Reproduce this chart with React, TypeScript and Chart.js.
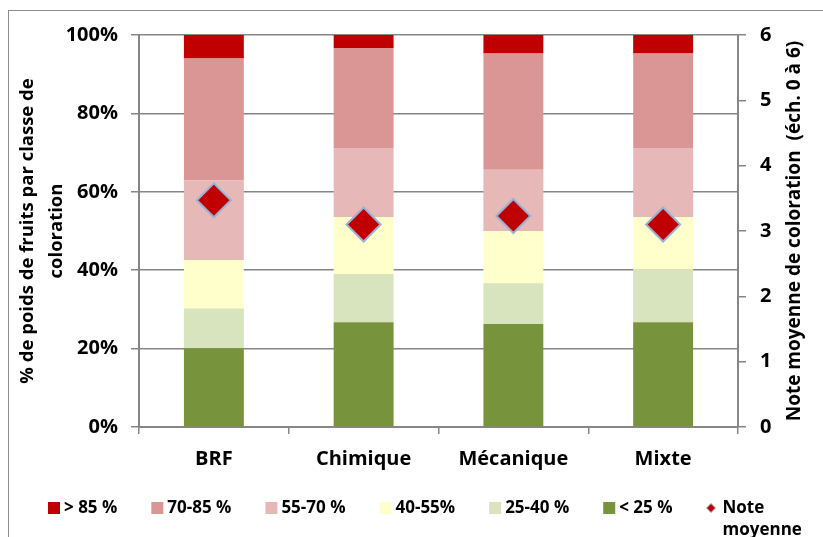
import React, { useEffect, useRef } from "react";
import { Chart, registerables } from "chart.js";

Chart.register(...registerables);

const categories = ["BRF", "Chimique", "Mécanique", "Mixte"];
const classLabels = ["< 25 %", "25-40 %", "40-55%", "55-70 %", "70-85 %", "> 85 %"];
const classColors = ["#77933C", "#D7E4BD", "#FFFFCC", "#E6B9B8", "#D99694", "#C00000"];
const lt25 = [20.1, 26.7, 26.3, 26.7];
const c25_40 = [10.1, 12.3, 10.4, 13.4];
const c40_55 = [12.4, 14.6, 13.3, 13.5];
const c55_70 = [20.3, 17.6, 15.6, 17.6];
const c70_85 = [31.1, 25.5, 29.7, 24.1];
const gt85 = [6.0, 3.3, 4.7, 4.7];
const noteMoyenne = [3.47, 3.1, 3.23, 3.1];
const noteLabel = "Note moyenne";
const leftTicks = [0, 20, 40, 60, 80, 100];
const rightTicks = [0, 1, 2, 3, 4, 5, 6];
const leftTitle = ["% de poids de fruits par classe de", "coloration"];
const rightTitle = "Note moyenne de coloration  (éch. 0 à 6)";

const FONT = "'Open Sans', sans-serif";
const GRAY = "#868686";
const RED = "#C00000";
const DIAMOND_BORDER = "#95B3D7";

// legend layout (Excel-like: fixed gap after each label)
const LEGEND_LEFT = 48;
const LEGEND_OFFSET_Y = 81; // below chart area bottom
const LEGEND_BOX = 12;
const LEGEND_TEXT_GAP = 4;
const LEGEND_ITEM_GAP = 34;

const customLegend = {
  id: "customLegend",
  afterDraw(chart: any) {
    const ctx = chart.ctx;
    const datasets = chart.data.datasets;
    const order = datasets
      .map((d: any, i: number) => i)
      .filter((i: number) => datasets[i].type !== "line")
      .reverse()
      .concat(datasets.map((d: any, i: number) => i).filter((i: number) => datasets[i].type === "line"));
    ctx.save();
    ctx.font = `bold 17px ${FONT}`;
    ctx.textBaseline = "middle";
    ctx.textAlign = "left";
    const y = chart.chartArea.bottom + LEGEND_OFFSET_Y;
    let x = LEGEND_LEFT;
    order.forEach((i: number) => {
      const ds = datasets[i];
      let textX: number;
      if (ds.type === "line") {
        const cx = x + 4.5;
        ctx.beginPath();
        ctx.moveTo(cx, y - 4.5);
        ctx.lineTo(cx + 4.5, y);
        ctx.lineTo(cx, y + 4.5);
        ctx.lineTo(cx - 4.5, y);
        ctx.closePath();
        ctx.fillStyle = RED;
        ctx.fill();
        ctx.lineWidth = 1;
        ctx.strokeStyle = DIAMOND_BORDER;
        ctx.stroke();
        textX = x + 16;
      } else {
        ctx.fillStyle = ds.backgroundColor;
        ctx.fillRect(x, y - LEGEND_BOX / 2, LEGEND_BOX, LEGEND_BOX);
        textX = x + LEGEND_BOX + LEGEND_TEXT_GAP;
      }
      const lines = ds.label === noteLabel ? ["Note", "moyenne"] : [ds.label];
      ctx.fillStyle = "#000";
      let w = 0;
      lines.forEach((ln: string, k: number) => {
        ctx.fillText(ln, textX, y + k * 22);
        w = Math.max(w, ctx.measureText(ln).width);
      });
      x = textX + w + LEGEND_ITEM_GAP;
    });
    ctx.restore();
  },
};

const rightTitlePlugin = {
  id: "rightTitle",
  afterDraw(chart: any) {
    const ctx = chart.ctx;
    const s = chart.scales.y2;
    ctx.save();
    ctx.font = `bold 19px ${FONT}`;
    ctx.fillStyle = "#000";
    ctx.textAlign = "center";
    ctx.textBaseline = "middle";
    ctx.translate(s.right - 28, (s.top + s.bottom) / 2);
    ctx.rotate(-Math.PI / 2);
    ctx.fillText(rightTitle, 0, 0);
    ctx.restore();
  },
};

export default function App() {
  const ref = useRef<HTMLCanvasElement | null>(null);

  useEffect(() => {
    if (!ref.current) return;
    const series = [lt25, c25_40, c40_55, c55_70, c70_85, gt85];
    const barSets = series.map((d, i) => ({
      type: "bar" as const,
      label: classLabels[i],
      data: d,
      backgroundColor: classColors[i],
      borderWidth: 0,
      yAxisID: "y",
      stack: "s",
      order: 1,
      barPercentage: 0.4,
      categoryPercentage: 1,
    }));
    const chart = new Chart(ref.current, {
      type: "bar",
      data: {
        labels: categories,
        datasets: [
          ...barSets,
          {
            type: "line" as const,
            label: noteLabel,
            data: noteMoyenne,
            yAxisID: "y2",
            showLine: false,
            order: -1,
            pointStyle: "rectRot",
            pointRadius: 17,
            pointHoverRadius: 17,
            pointBackgroundColor: RED,
            pointBorderColor: DIAMOND_BORDER,
            pointBorderWidth: 2,
            backgroundColor: RED,
            borderColor: DIAMOND_BORDER,
          },
        ] as any,
      },
      plugins: [customLegend, rightTitlePlugin],
      options: {
        animation: false,
        responsive: false,
        layout: { padding: { left: 0, right: 0, top: 35, bottom: 50 } },
        plugins: {
          tooltip: { enabled: false },
          legend: { display: false },
        },
        scales: {
          x: {
            offset: true,
            grid: {
              display: true,
              offset: true,
              drawOnChartArea: false,
              drawTicks: true,
              tickLength: 7,
              color: GRAY,
              lineWidth: 1.5,
            },
            border: { display: true, color: GRAY, width: 2 },
            ticks: {
              color: "#000",
              padding: 13,
              font: { family: FONT, size: 20, weight: "bold" },
            },
            afterFit: (s: any) => {
              s.height = 60;
            },
          },
          y: {
            position: "left",
            stacked: true,
            min: 0,
            max: 100,
            afterBuildTicks: (s: any) => {
              s.ticks = leftTicks.map((v) => ({ value: v }));
            },
            grid: {
              color: GRAY,
              lineWidth: 1.5,
              drawTicks: true,
              tickLength: 8,
            },
            border: { display: true, color: GRAY, width: 2 },
            ticks: {
              color: "#000",
              padding: 13,
              font: { family: FONT, size: 20, weight: "bold" },
              callback: (v: any) => v + "%",
            },
            title: {
              display: true,
              text: leftTitle,
              color: "#000",
              font: { family: FONT, size: 18.5, weight: "bold", lineHeight: 1.57 },
              padding: { top: 13.5, bottom: 0 },
            },
            afterFit: (s: any) => {
              s.width = 139;
            },
          },
          y2: {
            position: "right",
            min: 0,
            max: 6,
            afterBuildTicks: (s: any) => {
              s.ticks = rightTicks.map((v) => ({ value: v }));
            },
            grid: {
              drawOnChartArea: false,
              drawTicks: true,
              tickLength: 8,
              color: GRAY,
              lineWidth: 1.5,
            },
            border: { display: true, color: GRAY, width: 2 },
            ticks: {
              color: "#000",
              padding: 14,
              font: { family: FONT, size: 20, weight: "bold" },
            },
            afterFit: (s: any) => {
              s.width = 85;
            },
          },
        },
      } as any,
    });
    return () => chart.destroy();
  }, []);

  return (
    <div style={{ position: "fixed", left: 0, top: 0, width: 823, height: 537, overflow: "hidden", background: "#fff" }}>
      <div
        style={{
          position: "absolute",
          left: 8,
          top: 10,
          width: 900,
          height: 600,
          border: "1.5px solid #8c8c8c",
          boxSizing: "border-box",
        }}
      />
      <canvas ref={ref} width={823} height={537} style={{ position: "absolute", left: 0, top: 0, width: 823, height: 537 }} />
    </div>
  );
}
